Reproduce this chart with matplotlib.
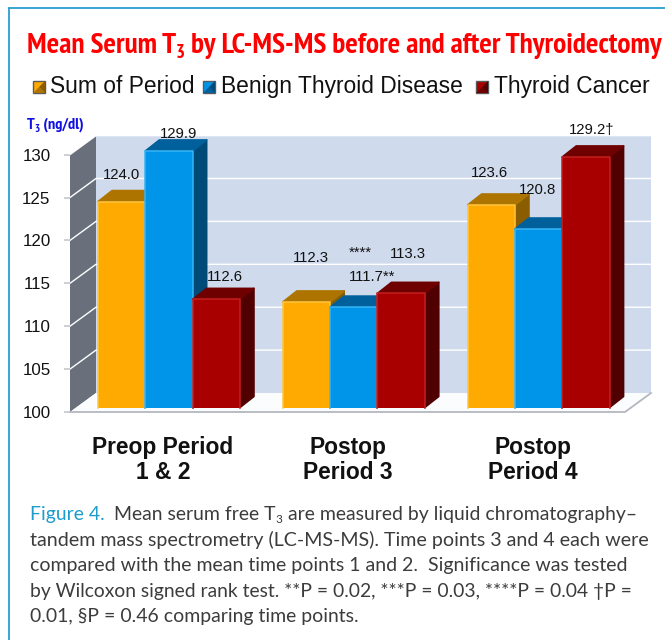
import numpy as np
import matplotlib
matplotlib.use("Agg")
import matplotlib.pyplot as plt
from matplotlib.patches import Polygon, Rectangle
import logging

logging.getLogger("matplotlib.font_manager").setLevel(logging.ERROR)

# values
periods = ["Preop Period\n1 & 2", "Postop\nPeriod 3", "Postop\nPeriod 4"]
series_names = ["Sum of Period", "Benign Thyroid Disease", "Thyroid Cancer"]
sum_of_period = [124.0, 112.3, 123.6]
benign = [129.9, 111.7, 120.8]
cancer = [112.6, 113.3, 129.2]
y_ticks = [100, 105, 110, 115, 120, 125, 130]

# value labels, as printed
label_texts = ["124.0", "129.9", "112.6", "112.3", "111.7**", "113.3", "123.6", "120.8", "129.2†"]
label_xy = [(122, 175), (179, 134), (225, 277), (311, 258), (372, 277), (408, 254), (489, 173), (537, 190), (592, 130)]

W, H = 665, 640
PX_X = 184.8   # px per group
PX_Y = 8.58    # px per T3 unit
X0, X1, Y0, Y1 = 70, 625, 412, 412 - 30 * PX_Y
GROUP0 = 169

BAR_STYLE = [("#FFAA00", "#AD7500", "#8A5E00", "#FFC640"),
             ("#0095E8", "#00609C", "#004A78", "#38B4F5"),
             ("#A80000", "#6E0000", "#500000", "#C42020")]
SANS = "Liberation Sans"
NARROW = ["PT Sans Narrow", "Liberation Sans"]
CAP = ["Lato", "DejaVu Sans"]

fig = plt.figure(figsize=(W / 100, H / 100), dpi=100, facecolor="white")

# overlay in pixel coordinates for frame, title, legend, caption
ov = fig.add_axes([0, 0, 1, 1], zorder=5)
ov.set_xlim(0, W)
ov.set_ylim(H, 0)
ov.axis("off")
ov.patch.set_alpha(0)

ax = fig.add_axes([X0 / W, 1 - Y0 / H, (X1 - X0) / W, (Y0 - Y1) / H], zorder=2)
ax.set_xlim((X0 - GROUP0) / PX_X, (X1 - GROUP0) / PX_X)
ax.set_ylim(100, 130)
ax.patch.set_alpha(0)
for s in ax.spines.values():
    s.set_visible(False)

xl, xr = ax.get_xlim()
ddx, ddy = 26 / PX_X, 19 / PX_Y  # depth of the box

# walls and floor
ax.add_patch(Polygon([(xl + ddx, 100 + ddy), (xr + ddx, 100 + ddy), (xr + ddx, 130 + ddy), (xl + ddx, 130 + ddy)],
                     fc="#CFDAED", ec="none", clip_on=False, zorder=1))
ax.add_patch(Polygon([(xl, 100), (xl + ddx, 100 + ddy), (xl + ddx, 130 + ddy), (xl, 130)],
                     fc="#69707C", ec="none", clip_on=False, zorder=1))
ax.add_patch(Polygon([(xl, 100), (xr, 100), (xr + ddx, 100 + ddy), (xl + ddx, 100 + ddy)],
                     fc="#FBFCFE", ec="none", clip_on=False, zorder=1))
ax.plot([xl, xr, xr + ddx], [100, 100, 100 + ddy], color="#B4B8BE", lw=1.3, clip_on=False, zorder=1.5)
for v in y_ticks[1:]:
    ax.plot([xl, xl + ddx, xr + ddx], [v, v + ddy, v + ddy], color="white", lw=1.0, clip_on=False, zorder=1.5)

# bars with 3D faces
n_groups = len(periods)
bar_w = 47.3 / PX_X
lift = 4.5 / PX_Y
dx, dy = 14 / PX_X, 11 / PX_Y
all_series = [sum_of_period, benign, cancer]
for i, (vals, st) in enumerate(zip(all_series, BAR_STYLE)):
    for g in range(n_groups):
        c = g + (i - 1) * bar_w
        left, right = c - bar_w / 2, c + bar_w / 2
        base, top = 100 + lift, vals[g] + lift
        z = 3 + i + g * 3
        ax.add_patch(Polygon([(right, base), (right + dx, base + dy), (right + dx, top + dy), (right, top)],
                             fc=st[2], ec=st[2], lw=1.2, joinstyle="round", clip_on=False, zorder=z))
        ax.add_patch(Polygon([(left, top), (right, top), (right + dx, top + dy), (left + dx, top + dy)],
                             fc=st[1], ec=st[1], lw=1.2, joinstyle="round", clip_on=False, zorder=z))
        ax.bar(c, vals[g] - 100, width=bar_w, bottom=base, color=st[0], clip_on=False, zorder=z + 0.1)
        ax.plot([left, left, right, right], [base, top, top, base], color=st[3], lw=1.1,
                solid_joinstyle="round", clip_on=False, zorder=z + 0.2)

ax.set_yticks(y_ticks)
ax.set_yticklabels([str(v) for v in y_ticks], fontsize=12.2, family=SANS, color="#111111")
ax.tick_params(axis="y", length=4, width=1.2, color="#C4C7CC", pad=10)
ax.set_xticks(np.arange(n_groups) - 6 / PX_X)
ax.set_xticklabels(periods, fontsize=16.4, fontweight="bold", family=SANS, color="#111111", linespacing=1.15)
ax.tick_params(axis="x", length=0, pad=17)

# value labels
for t, (lx, ly) in zip(label_texts, label_xy):
    ov.text(lx, ly, t, fontsize=10.7, family=SANS, ha="center", va="center", color="#111111")
ov.text(360, 253, "****", fontsize=10.7, family=SANS, ha="center", va="center", color="#111111")

fig.canvas.draw()
rend = fig.canvas.get_renderer()


def draw_runs(x, y, runs, scale=1.0, **kw):
    # runs of (text, colour, size, baseline shift), placed one after another
    drawn = []
    for txt, col, size, shift in runs:
        t = ov.text(x, y + shift, txt, color=col, fontsize=size * scale, va="baseline", ha="left", **kw)
        bb = t.get_window_extent(rend)
        # trailing spaces are not measured, add them by hand
        n_sp = len(txt) - len(txt.rstrip(" "))
        x += bb.width + n_sp * size * scale * 0.32
        drawn.append(t)
    return x, drawn


def fit_runs(x, y, x_end, runs, **kw):
    # scale the runs so that the line ends at x_end
    end, drawn = draw_runs(x, y, runs, **kw)
    for t in drawn:
        t.remove()
    draw_runs(x, y, runs, scale=(x_end - x) / (end - x), **kw)


# frame
ov.plot([8.5, 8.5], [640, 8], color="#2A9FD0", lw=1.3, solid_capstyle="butt")
ov.plot([8, 665], [8, 8], color="#2A9FD0", lw=1.3, solid_capstyle="butt")

# title
red = "#FF0000"
fit_runs(27, 53, 662, [("Mean Serum T", red, 18.6, 0), ("3", red, 12, 5),
                       (" by LC-MS-MS before and after Thyroidectomy", red, 18.6, 0)],
         family=NARROW, fontweight="bold")

# legend
for x, st, name, tx in zip([33, 203, 476], BAR_STYLE, series_names, [50, 221, 494]):
    ov.add_patch(Rectangle((x, 81), 12, 12, fc=st[0], ec="#5A5A5A", lw=1))
    ov.add_patch(Polygon([(x, 93), (x + 12, 93), (x + 6, 87)], fc=st[1], ec="none"))
    ov.add_patch(Polygon([(x + 12, 81), (x + 12, 93), (x + 6, 87)], fc=st[2], ec="none"))
    ov.text(tx, 93, name, fontsize=16.4, family=SANS, va="baseline", color="#111111")

# y axis title
fit_runs(27, 129, 84, [("T", "#1010E0", 11, 0), ("3", "#1010E0", 7.5, 3), (" (ng/dl)", "#1010E0", 11, 0)],
         family=NARROW, fontweight="bold")

# caption
grey = "#3C3C3C"
cs = 14
fit_runs(30, 520, 637, [("Figure 4. ", "#1E9CCB", cs, 0), ("Mean serum free T", grey, cs, 0), ("3", grey, 8.5, 3),
                        (" are measured by liquid chromatography–", grey, cs, 0)], family=CAP)
fit_runs(30, 546, 650, [("tandem mass spectrometry (LC-MS-MS). Time points 3 and 4 each were", grey, cs, 0)], family=CAP)
fit_runs(30, 571, 629, [("compared with the mean time points 1 and 2.  Significance was tested", grey, cs, 0)], family=CAP)
fit_runs(30, 597, 636, [("by Wilcoxon signed rank test. **P = 0.02, ***P = 0.03, ****P = 0.04 †P =", grey, cs, 0)], family=CAP)
fit_runs(30, 622, 358, [("0.01, §P = 0.46 comparing time points.", grey, cs, 0)], family=CAP)

fig.savefig("out.png", dpi=100)
